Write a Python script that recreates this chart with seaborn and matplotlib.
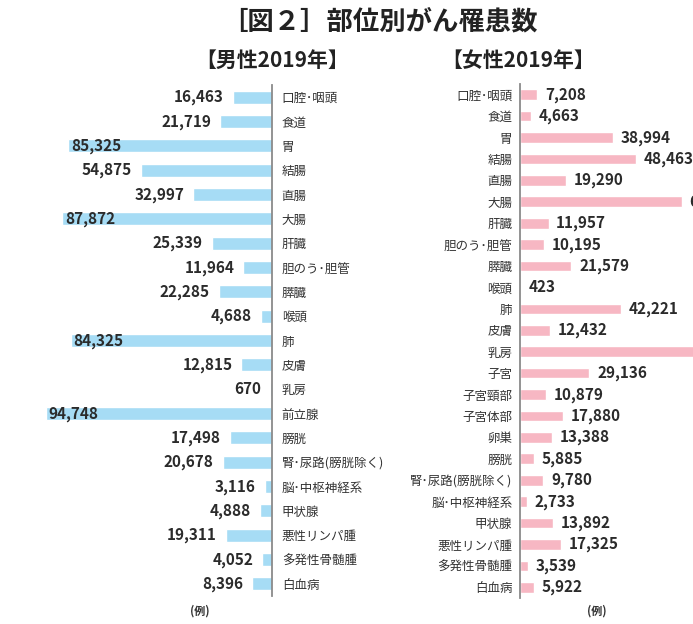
import numpy as np
import pandas as pd
import matplotlib
matplotlib.use('Agg')
import matplotlib.pyplot as plt
import seaborn as sns

# data
male_sites = ['口腔･咽頭', '食道', '胃', '結腸', '直腸', '大腸', '肝臓', '胆のう･胆管',
              '膵臓', '喉頭', '肺', '皮膚', '乳房', '前立腺', '膀胱', '腎･尿路(膀胱除く)',
              '脳･中枢神経系', '甲状腺', '悪性リンパ腫', '多発性骨髄腫', '白血病']
male_counts = [16463, 21719, 85325, 54875, 32997, 87872, 25339, 11964,
               22285, 4688, 84325, 12815, 670, 94748, 17498, 20678,
               3116, 4888, 19311, 4052, 8396]

female_sites = ['口腔･咽頭', '食道', '胃', '結腸', '直腸', '大腸', '肝臓', '胆のう･胆管',
                '膵臓', '喉頭', '肺', '皮膚', '乳房', '子宮', '子宮頸部', '子宮体部', '卵巣',
                '膀胱', '腎･尿路(膀胱除く)', '脳･中枢神経系', '甲状腺', '悪性リンパ腫',
                '多発性骨髄腫', '白血病']
female_counts = [7208, 4663, 38994, 48463, 19290, 67753, 11957, 10195,
                 21579, 423, 42221, 12432, 97142, 29136, 10879, 17880, 13388,
                 5885, 9780, 2733, 13892, 17325, 3539, 5922]

sns.set_style('white')
plt.rcParams['font.family'] = ['Noto Sans CJK JP', 'DejaVu Sans']

W, H = 693, 624
fig = plt.figure(figsize=(W / 100, H / 100), dpi=100)

def px_axes(x0, x1, y0, y1):
    # pixel box (top-left origin) -> figure axes
    return fig.add_axes([x0 / W, 1 - y1 / H, (x1 - x0) / W, (y1 - y0) / H])

blue = '#a6dcf5'
pink = '#f7b7c3'
line_c = '#8a8a8a'
txt_c = '#2b2b2b'
scale = 0.002385  # px per case
val_fs = 11
cat_fs = 9

# male panel (bars going left)
ax_m = px_axes(0, 272, 85, 596)
dm = pd.DataFrame({'site': male_sites, 'count': male_counts})
sns.barplot(data=dm, x='count', y='site', orient='h', color=blue, width=0.54,
            saturation=1, ax=ax_m)
ax_m.set_xlim(272 / scale, 0)
ax_m.set_ylim(len(male_sites) - 0.5, -0.5)
ax_m.yaxis.tick_right()
ax_m.tick_params(axis='y', length=0, pad=7, labelsize=cat_fs, labelcolor='#333333')
ax_m.set_xticks([])
ax_m.set_xlabel('')
ax_m.set_ylabel('')
for s in ['top', 'bottom', 'left']:
    ax_m.spines[s].set_visible(False)
ax_m.spines['right'].set_color(line_c)
ax_m.spines['right'].set_linewidth(1.3)
for i, v in enumerate(male_counts):
    if v > 80000:
        ax_m.annotate(f'{v:,}', (v, i), xytext=(2, 0), textcoords='offset points',
                      ha='left', va='center', fontsize=val_fs, fontweight='bold', color=txt_c)
    else:
        ax_m.annotate(f'{v:,}', (v, i), xytext=(-6.5, 0), textcoords='offset points',
                      ha='right', va='center', fontsize=val_fs, fontweight='bold', color=txt_c)

# female panel (bars going right)
ax_f = px_axes(520, 693, 84, 598)
df_f = pd.DataFrame({'site': female_sites, 'count': female_counts})
sns.barplot(data=df_f, x='count', y='site', orient='h', color=pink, width=0.5,
            saturation=1, ax=ax_f)
ax_f.set_xlim(0, 173 / scale)
ax_f.set_ylim(len(female_sites) - 0.5, -0.5)
ax_f.tick_params(axis='y', length=0, pad=5.5, labelsize=cat_fs, labelcolor='#333333')
ax_f.set_xticks([])
ax_f.set_xlabel('')
ax_f.set_ylabel('')
for s in ['top', 'bottom', 'right']:
    ax_f.spines[s].set_visible(False)
ax_f.spines['left'].set_color(line_c)
ax_f.spines['left'].set_linewidth(1.3)
for i, v in enumerate(female_counts):
    ax_f.annotate(f'{v:,}', (v, i), xytext=(5.5, 0), textcoords='offset points',
                  ha='left', va='center', fontsize=val_fs, fontweight='bold', color=txt_c,
                  annotation_clip=False)

# titles
fig.text(379 / W, 1 - 22 / H, '［図２］部位別がん罹患数', ha='center', va='center',
         fontsize=19, fontweight='bold', color='#222222')
fig.text(272 / W, 1 - 60 / H, '【男性2019年】', ha='center', va='center',
         fontsize=15, fontweight='bold', color='#222222')
fig.text(518 / W, 1 - 60 / H, '【女性2019年】', ha='center', va='center',
         fontsize=15, fontweight='bold', color='#222222')
fig.text(200 / W, 1 - 611 / H, '(例)', ha='center', va='center',
         fontsize=8, fontweight='bold', color='#333333')
fig.text(597 / W, 1 - 611 / H, '(例)', ha='center', va='center',
         fontsize=8, fontweight='bold', color='#333333')

fig.savefig('out.png', dpi=100)
